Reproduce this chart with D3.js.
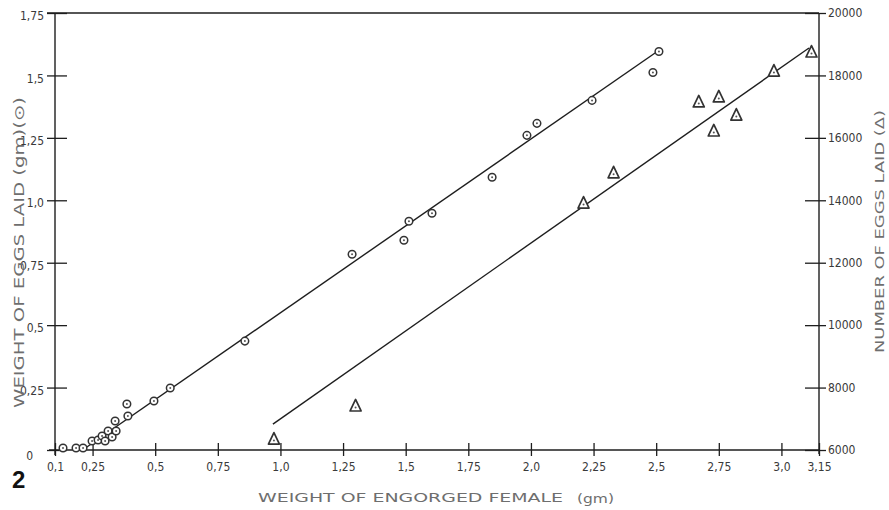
<!DOCTYPE html>
<html>
<head>
<meta charset="utf-8">
<script src="https://cdn.jsdelivr.net/npm/d3@7"></script>
<style>
  html, body { margin: 0; padding: 0; background: #fff; }
  svg { display: block; }
  .tick text { font-family: "DejaVu Sans Condensed", "Liberation Sans Narrow", "DejaVu Sans", sans-serif; font-size: 12px; fill: #3a3a3a; }
  .title { font-family: "DejaVu Sans", "Noto Sans", sans-serif; fill: #6e6e6e; }
</style>
</head>
<body>
<svg id="chart" width="889" height="510"></svg>
<script>
// Weight of engorged female (gm) vs weight of eggs laid (gm) — circles
const eggWeightX = [0.132, 0.184, 0.212, 0.248, 0.272, 0.288, 0.30, 0.312, 0.328, 0.34, 0.344,
                    0.387, 0.391, 0.495, 0.56, 0.858, 1.286, 1.493, 1.513, 1.605, 1.845,
                    1.984, 2.024, 2.244, 2.487, 2.511];
const eggWeightY = [0.008, 0.008, 0.008, 0.036, 0.04, 0.056, 0.036, 0.076, 0.052, 0.116, 0.076,
                    0.184, 0.136, 0.196, 0.248, 0.436, 0.784, 0.84, 0.916, 0.948, 1.092,
                    1.26, 1.308, 1.40, 1.512, 1.596];
// Weight of engorged female (gm) vs number of eggs laid — triangles
const eggCountX = [0.974, 1.30, 2.21, 2.33, 2.67, 2.73, 2.75, 2.82, 2.97, 3.12];
const eggCountY = [6350, 7410, 13910, 14880, 17150, 16220, 17310, 16730, 18140, 18750];

// Fitted regression lines (end points)
const eggWeightFitX = [0.21, 2.51];
const eggWeightFitY = [0.0, 1.60];
const eggCountFitX = [0.97, 3.11];
const eggCountFitY = [6830, 18880];

// Axis ticks
const xTickValues = [0.1, 0.25, 0.5, 0.75, 1.0, 1.25, 1.5, 1.75, 2.0, 2.25, 2.5, 2.75, 3.0, 3.15];
const xTickLabels = ["0,1", "0,25", "0,5", "0,75", "1,0", "1,25", "1,5", "1,75", "2,0", "2,25", "2,5", "2,75", "3,0", "3,15"];
const leftTickValues = [0, 0.25, 0.5, 0.75, 1.0, 1.25, 1.5, 1.75];
const leftTickLabels = ["0", "0,25", "0,5", "0,75", "1,0", "1,25", "1,5", "1,75"];
const rightTickValues = [6000, 8000, 10000, 12000, 14000, 16000, 18000, 20000];
const rightTickLabels = ["6000", "8000", "10000", "12000", "14000", "16000", "18000", "20000"];

const svg = d3.select("#chart");
const ink = "#1e1e1e";

const x = d3.scaleLinear().domain([0.1, 3.15]).range([55, 819]);
const yL = d3.scaleLinear().domain([0, 1.75]).range([450, 13]);
const yR = d3.scaleLinear().domain([6000, 20000]).range([450, 13]);

function styleAxis(g) {
  g.select(".domain").attr("stroke", ink).attr("stroke-width", 1.4);
  g.selectAll(".tick line").attr("stroke", ink).attr("stroke-width", 1.3);
}

// Bottom axis
const gx = svg.append("g").attr("transform", `translate(0,${yL(0)})`)
  .call(d3.axisBottom(x).tickValues(xTickValues)
    .tickFormat((d, i) => xTickLabels[i]).tickSizeInner(6).tickSizeOuter(0).tickPadding(6));
styleAxis(gx);
gx.selectAll(".tick line").attr("y1", -7);
gx.select(".domain").attr("d", `M${x(0.1) - 6},0H${x(3.15)}`);

// Left axis
const gl = svg.append("g").attr("transform", `translate(${x(0.1)},0)`)
  .call(d3.axisLeft(yL).tickValues(leftTickValues)
    .tickFormat((d, i) => leftTickLabels[i]).tickSizeInner(8).tickSizeOuter(0).tickPadding(3));
styleAxis(gl);
gl.selectAll(".tick line").attr("x1", 12);
gl.select(".domain").attr("d", `M0,${yL(1.75)}V${yL(0) + 5}`);
gl.selectAll(".tick text").attr("dy", "0.55em");
gl.selectAll(".tick").filter(d => d === 0).select("text").attr("x", -22).attr("dy", "0.75em");

// Right axis
const gr = svg.append("g").attr("transform", `translate(${x(3.15)},0)`)
  .call(d3.axisRight(yR).tickValues(rightTickValues)
    .tickFormat((d, i) => rightTickLabels[i]).tickSizeInner(7).tickSizeOuter(0).tickPadding(2));
styleAxis(gr);
gr.selectAll(".tick line").attr("x1", -14);
gr.select(".domain").attr("d", `M0,${yR(20000)}V${yR(6000) + 4}`);

// Top frame line
svg.append("line")
  .attr("x1", x(0.1) - 8).attr("x2", x(3.15))
  .attr("y1", yL(1.75)).attr("y2", yL(1.75))
  .attr("stroke", ink).attr("stroke-width", 1.4);

// Regression lines
const lineL = d3.line().x(d => x(d[0])).y(d => yL(d[1]));
const lineR = d3.line().x(d => x(d[0])).y(d => yR(d[1]));
svg.append("path").datum(d3.zip(eggWeightFitX, eggWeightFitY))
  .attr("d", lineL).attr("fill", "none").attr("stroke", ink).attr("stroke-width", 1.4);
svg.append("path").datum(d3.zip(eggCountFitX, eggCountFitY))
  .attr("d", lineR).attr("fill", "none").attr("stroke", ink).attr("stroke-width", 1.4);

// Circle markers (egg weight)
const circ = svg.append("g").selectAll("g").data(d3.zip(eggWeightX, eggWeightY)).join("g")
  .attr("transform", d => `translate(${x(d[0])},${yL(d[1])})`);
circ.append("circle").attr("r", 3.8).attr("fill", "#fff").attr("stroke", "#333").attr("stroke-width", 1.5);
circ.append("circle").attr("r", 1).attr("fill", "#555");

// Triangle markers (egg count)
const tri = svg.append("g").selectAll("g").data(d3.zip(eggCountX, eggCountY)).join("g")
  .attr("transform", d => `translate(${x(d[0])},${yR(d[1])})`);
tri.append("path").attr("d", "M0,-6.5L5.5,5L-5.5,5Z")
  .attr("fill", "#fff").attr("stroke", "#333").attr("stroke-width", 1.7).attr("stroke-linejoin", "round");
tri.append("circle").attr("cy", 1.5).attr("r", 1).attr("fill", "#555");

// Titles
svg.append("text").attr("class", "title")
  .attr("x", 258).attr("y", 502).attr("font-size", 12.5)
  .attr("textLength", 305).attr("lengthAdjust", "spacingAndGlyphs")
  .text("WEIGHT OF ENGORGED FEMALE");
svg.append("text").attr("class", "title")
  .attr("x", 577).attr("y", 503).attr("font-size", 12)
  .attr("textLength", 37).attr("lengthAdjust", "spacingAndGlyphs")
  .text("(gm)");

svg.append("text").attr("class", "title")
  .attr("transform", "translate(24,408) rotate(-90)")
  .attr("font-size", 13.5)
  .attr("textLength", 311).attr("lengthAdjust", "spacingAndGlyphs")
  .text("WEIGHT OF EGGS LAID (gm)(⊙)");

svg.append("text").attr("class", "title")
  .attr("transform", "translate(884,353) rotate(-90)")
  .attr("font-size", 12.5)
  .attr("textLength", 243).attr("lengthAdjust", "spacingAndGlyphs")
  .text("NUMBER OF EGGS LAID (Δ)");

// Figure number
svg.append("text")
  .attr("x", 12).attr("y", 488)
  .attr("font-family", "Liberation Sans, Arial, sans-serif")
  .attr("font-weight", "bold").attr("font-size", 24).attr("fill", "#111")
  .text("2");
</script>
</body>
</html>
